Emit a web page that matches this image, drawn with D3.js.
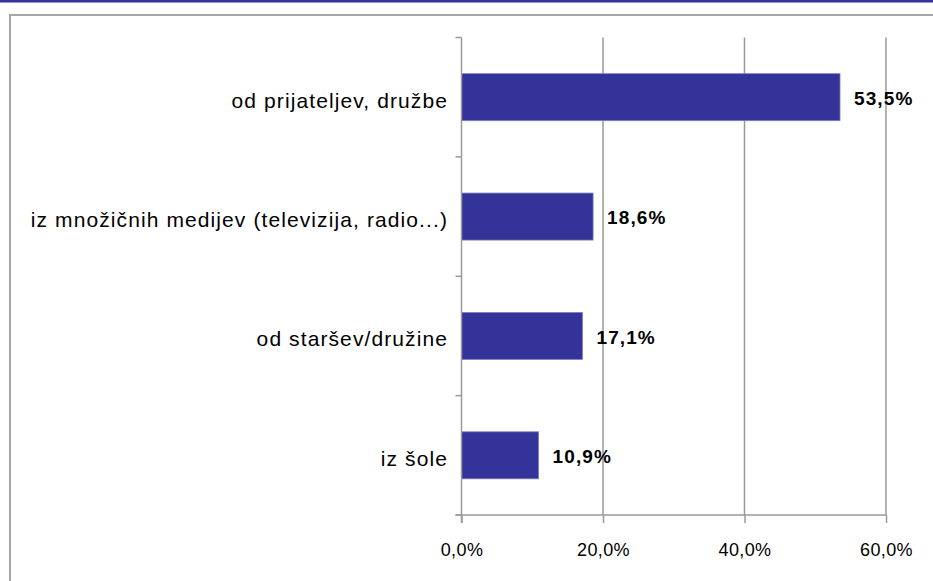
<!DOCTYPE html>
<html>
<head>
<meta charset="utf-8">
<script src="https://cdn.jsdelivr.net/npm/d3@7"></script>
<style>
  body { margin: 0; background: #fff; }
  svg { display: block; font-family: "Liberation Sans", Arial, sans-serif; }
</style>
</head>
<body>
<svg id="chart"></svg>
<script>
// chart data
var categories = ['od prijateljev, družbe', 'iz množičnih medijev (televizija, radio...)', 'od staršev/družine', 'iz šole']
var values = [53.5, 18.6, 17.1, 10.9]
var tickValues = [0, 20, 40, 60]

var width = 933,
  height = 581

var svg = d3.select('#chart').attr('width', width).attr('height', height)

// top blue rule and the grey frame
svg.append('rect').attr('x', 0).attr('y', 0).attr('width', width).attr('height', 2.5).attr('fill', '#333399')
svg.append('path')
  .attr('d', 'M10,' + (height + 5) + 'V15H' + (width + 5))
  .attr('fill', 'none')
  .attr('stroke', '#a6a6a6')
  .attr('stroke-width', 2)

var plotTop = 37.5,
  plotBottom = 515

var x = d3.scaleLinear().domain([0, 60]).range([461.5, 886])

var band = d3.scaleBand().domain(categories).range([plotTop, plotBottom])
var y = d3.scaleBand().domain(categories).range([plotTop, plotBottom])
  .paddingInner(0.606).paddingOuter(0.303)

var fmt = function(v) { return d3.format('.1f')(v).replace('.', ',') + '%' }

// vertical gridlines
svg.append('g').selectAll('line')
  .data(tickValues.slice(1))
  .enter().append('line')
  .attr('x1', function(d) { return x(d) }).attr('x2', function(d) { return x(d) })
  .attr('y1', plotTop).attr('y2', plotBottom)
  .attr('stroke', '#9a9a9a').attr('stroke-width', 1.5)

// bars
svg.append('g').selectAll('rect')
  .data(values)
  .enter().append('rect')
  .attr('x', x(0))
  .attr('y', function(d, i) { return y(categories[i]) })
  .attr('width', function(d) { return x(d) - x(0) })
  .attr('height', y.bandwidth())
  .attr('fill', '#333399')
  .attr('stroke', '#8080c0')
  .attr('stroke-width', 0.8)

// value labels
svg.append('g').selectAll('text')
  .data(values)
  .enter().append('text')
  .attr('x', function(d) { return x(d) + 14 })
  .attr('y', function(d, i) { return y(categories[i]) + y.bandwidth() / 2 + 1 })
  .attr('dy', '0.35em')
  .attr('font-size', 19)
  .attr('font-weight', 'bold')
  .attr('letter-spacing', 1.1)
  .attr('fill', '#000')
  .text(fmt)

// category axis
var yAxis = svg.append('g')
yAxis.append('line')
  .attr('x1', x(0)).attr('x2', x(0)).attr('y1', plotTop).attr('y2', plotBottom + 8)
  .attr('stroke', '#9a9a9a').attr('stroke-width', 1.5)
yAxis.selectAll('line.tick')
  .data(categories.concat(['end']))
  .enter().append('line')
  .attr('class', 'tick')
  .attr('x1', x(0) - 6).attr('x2', x(0))
  .attr('y1', function(d, i) { return i < categories.length ? band(d) : plotBottom })
  .attr('y2', function(d, i) { return i < categories.length ? band(d) : plotBottom })
  .attr('stroke', '#9a9a9a').attr('stroke-width', 1.5)
yAxis.selectAll('text')
  .data(categories)
  .enter().append('text')
  .attr('x', 448)
  .attr('y', function(d) { return band(d) + band.bandwidth() / 2 + 3 })
  .attr('dy', '0.35em')
  .attr('text-anchor', 'end')
  .attr('font-size', 21)
  .attr('letter-spacing', 1.1)
  .attr('fill', '#000')
  .text(function(d) { return d })

// value axis
var xAxis = svg.append('g')
  .attr('transform', 'translate(0,' + plotBottom + ')')
  .call(d3.axisBottom(x).tickValues(tickValues).tickSize(8).tickPadding(20)
    .tickFormat(fmt))
xAxis.select('.domain')
  .attr('d', 'M' + (x(0) - 6) + ',0H' + x(60))
  .attr('stroke', '#9a9a9a').attr('stroke-width', 1.5)
xAxis.selectAll('.tick line').attr('stroke', '#9a9a9a').attr('stroke-width', 1.5)
xAxis.selectAll('.tick text')
  .attr('font-size', 18)
  .attr('letter-spacing', 0.4)
  .attr('font-family', '"Liberation Sans", Arial, sans-serif')
  .attr('fill', '#000')
</script>
</body>
</html>
